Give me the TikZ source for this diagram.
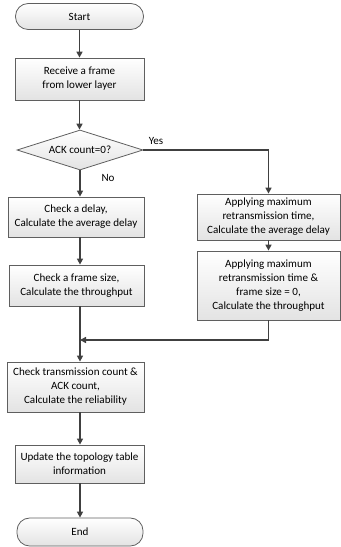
\documentclass[tikz,border=0pt]{standalone}
\usepackage{fontspec}
\setmainfont{Carlito}
\usepackage{tikz}
\usetikzlibrary{shapes.geometric,arrows.meta,positioning}
\definecolor{linegray}{RGB}{64,64,64}
\definecolor{edgegray}{RGB}{95,95,95}
\tikzset{
  boxbase/.style={draw=edgegray,line width=0.6pt,top color=white,bottom color=gray!22,
                  text=black,align=center,inner sep=1pt,
                  font=\fontsize{8.3}{10.5}\selectfont},
  process/.style={boxbase,rectangle},
  terminal/.style={boxbase,rectangle,rounded corners=9.5pt},
  decision/.style={boxbase,diamond,aspect=3.1,inner sep=0pt},
  arr/.style={draw=linegray,line width=1.1pt,-{Triangle[length=4.5pt,width=4.5pt]}},
  flow/.style={draw=linegray,line width=1.1pt},
  lbl/.style={font=\fontsize{8.3}{10}\selectfont}
}
\begin{document}
\begin{tikzpicture}[x=0.75pt,y=-0.75pt]
\useasboundingbox (0,0) rectangle (340,547);
% left column
\node[terminal,minimum width=96pt,minimum height=19.5pt] (start) at (79.5,16.5) {Start};
\node[process,minimum width=96.75pt,minimum height=31.5pt] (receive) at (79.5,79) {Receive a frame\\from lower layer};
\node[decision,minimum width=94.5pt,minimum height=30pt] (ack) at (80,150) {ACK count=0?};
\node[process,minimum width=102pt,minimum height=30pt] (delay) at (76,217) {Check a delay,\\Calculate the average delay};
\node[process,minimum width=101.25pt,minimum height=30.75pt] (frame) at (76.5,285.5) {Check a frame size,\\Calculate the throughput};
\node[process,minimum width=102.75pt,minimum height=37.5pt] (trans) at (75.5,387) {Check transmission count \&\\ACK count,\\Calculate the reliability};
\node[process,minimum width=96.75pt,minimum height=28.5pt] (update) at (79.5,464) {Update the topology table\\information};
\node[terminal,minimum width=94.5pt,minimum height=21pt] (end) at (80,532) {End};
% right column
\node[process,minimum width=107.25pt,minimum height=34.5pt] (apply1) at (268.5,217) {Applying maximum\\retransmission time,\\Calculate the average delay};
\node[process,minimum width=107.25pt,minimum height=51.75pt] (apply2) at (268.5,285.5) {Applying maximum\\retransmission time \&\\frame size = 0,\\Calculate the throughput};
\coordinate (merge) at (80,340);

% connectors
\draw[arr] (start) -- (start |- receive.north);
\draw[arr] (receive) -- (receive |- ack.north);
\draw[arr] (ack.south) -- (ack.south |- delay.north);
\draw[arr] (ack.south |- delay.south) -- (ack.south |- frame.north);
\draw[arr] (ack.south |- frame.south) -- (ack.south |- trans.north);
\draw[arr] (ack.south |- trans.south) -- (ack.south |- update.north);
\draw[arr] (ack.south |- update.south) -- (ack.south |- end.north);
\draw[arr] (ack.east) -| (apply1.north);
\draw[arr] (apply1) -- (apply2.north);
\draw[arr] (apply2.south) |- (merge);

\node[lbl] (yes) at (156,141) {Yes};
\node[lbl] (no) at (108,178) {No};
\end{tikzpicture}
\end{document}
